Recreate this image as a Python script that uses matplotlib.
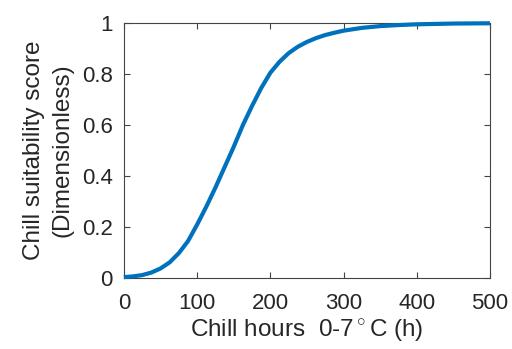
import numpy as np
import matplotlib
matplotlib.use("Agg")
from matplotlib import pyplot as plt

# chill hours vs suitability score
chill_hours = [0, 12.5, 25, 37.5, 50, 62.5, 75, 87.5, 100, 112.5, 125, 137.5, 150,
               162.5, 175, 187.5, 200, 212.5, 225, 237.5, 250, 262.5, 275, 287.5,
               300, 325, 350, 375, 400, 450, 500]
score = [0.004, 0.007, 0.012, 0.022, 0.038, 0.062, 0.098, 0.145, 0.21, 0.28, 0.355,
         0.435, 0.515, 0.60, 0.675, 0.745, 0.805, 0.848, 0.882, 0.907, 0.926, 0.941,
         0.953, 0.962, 0.97, 0.981, 0.988, 0.992, 0.995, 0.998, 0.999]

xticks = [0, 100, 200, 300, 400, 500]
yticks = [0, 0.2, 0.4, 0.6, 0.8, 1]
ytick_labels = ["0", "0.2", "0.4", "0.6", "0.8", "1"]

plt.rcParams['font.family'] = ['Liberation Sans', 'DejaVu Sans']
plt.rcParams['mathtext.fontset'] = 'custom'
plt.rcParams['mathtext.rm'] = 'Liberation Sans'

fig = plt.figure(figsize=(5.12, 3.49), dpi=100)
ax = fig.add_axes([0.242, 0.203, 0.715, 0.731])

ax.plot(chill_hours, score, color=(0.0, 0.447, 0.741), linewidth=3.0,
        solid_capstyle='butt', clip_on=False, zorder=3)

ax.set_xlim(0, 500)
ax.set_ylim(0, 1)
ax.set_xticks(xticks)
ax.set_yticks(yticks)
ax.set_yticklabels(ytick_labels)

for s in ax.spines.values():
    s.set_color('#444444')
    s.set_linewidth(0.8)
ax.tick_params(direction='in', length=4, width=0.8, color='#444444',
               labelsize=16, labelcolor='#262626', top=True, right=True)
ax.tick_params(axis='y', pad=8)
ax.tick_params(axis='x', pad=11)

ax.set_xlabel("Chill hours  0-7$^\\circ$C (h)", fontsize=17.5, color='#262626', labelpad=2)
ax.set_ylabel("Chill suitability score\n(Dimensionless)", fontsize=17.5,
              color='#262626', labelpad=6, linespacing=1.4)

fig.savefig("out.png", dpi=100)
